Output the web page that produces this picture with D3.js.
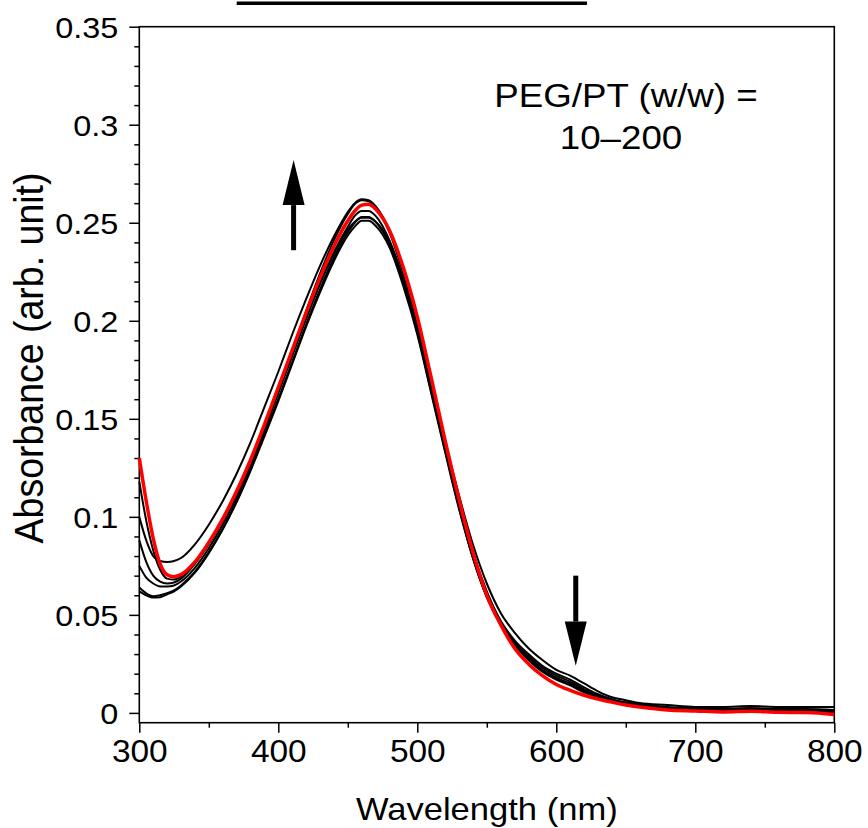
<!DOCTYPE html>
<html>
<head>
<meta charset="utf-8">
<script src="https://cdn.jsdelivr.net/npm/d3@7"></script>
<style>
  html, body { margin: 0; padding: 0; background: #fff; }
  svg text { font-family: "Liberation Sans", Arial, sans-serif; fill: #000; }
</style>
</head>
<body>
<svg id="chart" width="868" height="828"></svg>
<script>
// Wavelength grid (nm)
var wavelengths = [300,305,310,315,320,325,330,340,350,360,370,380,390,400,410,420,430,440,450,455,460,465,470,480,490,500,510,520,530,540,550,560,570,580,590,600,610,620,630,640,650,660,680,700,720,740,760,780,800];

// absorbance spectra, black ones (PEG/PT ratios)
var black1 = [.100,.088,.080,.0775,.077,.0775,.079,.086,.096,.108,.122,.138,.156,.174,.193,.211,.228,.243,.2555,.260,.262,.2615,.2585,.246,.225,.199,.169,.139,.111,.086,.066,.051,.041,.033,.027,.022,.019,.015,.011,.008,.0065,.005,.004,.003,.003,.0035,.003,.003,.003];
var black2 = [.088,.077,.070,.067,.066,.0665,.0685,.076,.086,.098,.112,.128,.146,.165,.185,.205,.224,.241,.2545,.2595,.2615,.261,.258,.245,.224,.198,.168,.137,.108,.082,.062,.047,.037,.030,.024,.020,.017,.013,.0095,.007,.0055,.0045,.003,.0025,.002,.0025,.002,.002,.0015];
var black3 = [.075,.069,.066,.0645,.0645,.065,.067,.074,.084,.096,.110,.126,.144,.163,.182,.201,.219,.235,.248,.2535,.256,.256,.2535,.241,.221,.195,.165,.135,.106,.080,.060,.046,.036,.029,.023,.019,.016,.012,.009,.0065,.005,.004,.0025,.002,.0015,.002,.0015,.0012,.001];
var black4 = [.064,.061,.0595,.060,.061,.0625,.065,.072,.082,.094,.108,.124,.142,.160,.179,.198,.216,.232,.245,.250,.253,.253,.2505,.239,.219,.194,.164,.134,.105,.079,.059,.045,.035,.028,.022,.018,.015,.0115,.0085,.006,.0045,.0035,.002,.0015,.001,.0015,.001,.0008,.0005];
var black5 = [.062,.060,.0588,.059,.0605,.062,.0645,.0715,.0815,.0935,.1075,.1235,.141,.159,.178,.197,.2145,.2305,.2435,.248,.251,.251,.2485,.2375,.2175,.193,.163,.133,.104,.079,.059,.045,.035,.0275,.0215,.0175,.0145,.011,.008,.006,.0045,.0035,.002,.0015,.0012,.0012,.001,.0008,.0008];
var black6 = [.118,.098,.083,.073,.0685,.068,.0695,.0765,.0865,.0985,.1125,.128,.146,.1645,.183,.2015,.219,.234,.2465,.2505,.2525,.2525,.2505,.240,.2205,.196,.166,.1355,.106,.080,.0595,.045,.0345,.027,.021,.017,.014,.0105,.008,.006,.0045,.0035,.002,.0012,.001,.0012,.0008,.0008,.0005];
// red spectrum (highlighted)
var red = [.130,.108,.089,.076,.0705,.0695,.0705,.077,.087,.099,.113,.129,.147,.166,.185,.204,.222,.238,.251,.256,.259,.2595,.257,.246,.227,.202,.171,.139,.109,.082,.060,.045,.033,.025,.019,.0145,.0115,.009,.007,.0055,.004,.003,.0015,.001,.0005,.0008,.0003,.0002,-.0008];

var blackSeries = [black1, black2, black3, black4, black5, black6];

var xTicks = [300, 400, 500, 600, 700, 800];
var xMinor = [350, 450, 550, 650, 750];
var yTicks = [0, 0.05, 0.1, 0.15, 0.2, 0.25, 0.3, 0.35];
var yTickLabels = ['0', '0.05', '0.1', '0.15', '0.2', '0.25', '0.3', '0.35'];

// annotation arrows: [wavelength, tail, head base, tip]
var upArrow = [411, 0.236, 0.259, 0.282];
var downArrow = [614, 0.070, 0.0466, 0.024];

var svg = d3.select('#chart');

var x = d3.scaleLinear().domain([300, 800]).range([139.3, 834.3]),
    y = d3.scaleLinear().domain([-0.005, 0.35]).range([722.7, 26.7]);

var SX = 1.08; // glyph stretch of the source picture

// cropped title underline at the very top
svg.append('line')
    .attr('x1', 236.7).attr('x2', 587)
    .attr('y1', 3.3).attr('y2', 3.3)
    .attr('stroke', '#000').attr('stroke-width', 3.5);

// frame
svg.append('rect')
    .attr('x', x(300)).attr('y', y(0.35))
    .attr('width', x(800) - x(300)).attr('height', y(-0.005) - y(0.35))
    .attr('fill', 'none').attr('stroke', '#000').attr('stroke-width', 1.6);

// y axis
var yMinor = d3.range(0, 0.3501, 0.01).filter(function(v){
    return Math.abs(v / 0.05 - Math.round(v / 0.05)) > 1e-6;
});
svg.append('g')
    .attr('transform', 'translate(' + x(300) + ',0)')
    .call(d3.axisLeft(y).tickValues(yMinor).tickSize(5).tickFormat(''))
    .call(function(g){ g.select('.domain').remove(); })
    .selectAll('line').attr('stroke-width', 1.5);

var yAxis = svg.append('g')
    .attr('transform', 'translate(' + x(300) + ',0)')
    .call(d3.axisLeft(y).tickValues(yTicks).tickSize(10)
        .tickFormat(function(d, i){ return yTickLabels[i]; }));
yAxis.select('.domain').remove();
yAxis.selectAll('line').attr('stroke-width', 1.5);
yAxis.selectAll('text')
    .attr('x', -21 / SX)
    .attr('dy', '0.36em')
    .attr('transform', 'scale(' + SX + ',1)')
    .style('font-size', '30px');

// x axis
svg.append('g')
    .attr('transform', 'translate(0,' + y(-0.005) + ')')
    .call(d3.axisBottom(x).tickValues(xMinor).tickSize(5).tickFormat(''))
    .call(function(g){ g.select('.domain').remove(); })
    .selectAll('line').attr('stroke-width', 1.5);

var xAxis = svg.append('g')
    .attr('transform', 'translate(0,' + y(-0.005) + ')')
    .call(d3.axisBottom(x).tickValues(xTicks).tickSize(10).tickFormat(d3.format('d')));
xAxis.select('.domain').remove();
xAxis.selectAll('line').attr('stroke-width', 1.5);
xAxis.selectAll('.tick text')
    .attr('y', 39)
    .attr('dy', 0)
    .attr('x', 0)
    .attr('transform', 'scale(' + SX + ',1)')
    .style('font-size', '31px');

// axis titles
svg.append('text')
    .attr('text-anchor', 'middle')
    .attr('transform', 'translate(' + ((x(300) + x(800)) / 2) + ',820) scale(' + SX + ',1)')
    .style('font-size', '32px')
    .text('Wavelength (nm)');

svg.append('text')
    .attr('text-anchor', 'middle')
    .attr('transform', 'translate(43.3,358) rotate(-90) scale(1,1.1)')
    .style('font-size', '37.5px')
    .text('Absorbance (arb. unit)');

// spectra
var line = d3.line()
    .x(function(d){ return x(d[0]); })
    .y(function(d){ return y(d[1]); })
    .curve(d3.curveMonotoneX);

var plot = svg.append('g');

blackSeries.forEach(function(s){
    plot.append('path')
        .datum(wavelengths.map(function(w, i){ return [w, s[i]]; }))
        .attr('d', line)
        .attr('fill', 'none')
        .attr('stroke', '#000')
        .attr('stroke-width', 2);
});

plot.append('path')
    .datum(wavelengths.map(function(w, i){ return [w, red[i]]; }))
    .attr('d', line)
    .attr('fill', 'none')
    .attr('stroke', '#ff0000')
    .attr('stroke-width', 3.5);

// arrows
function arrow(a){
    var cx = x(a[0]);
    svg.append('line')
        .attr('x1', cx).attr('x2', cx)
        .attr('y1', y(a[1])).attr('y2', y(a[2]))
        .attr('stroke', '#000').attr('stroke-width', 5);
    svg.append('path')
        .attr('d', 'M' + (cx - 11) + ',' + y(a[2]) + 'L' + (cx + 11) + ',' + y(a[2]) + 'L' + cx + ',' + y(a[3]) + 'Z')
        .attr('fill', '#000');
}
arrow(upArrow);
arrow(downArrow);

// annotation
svg.append('text')
    .attr('text-anchor', 'middle')
    .attr('transform', 'translate(626,107) scale(' + SX + ',1)')
    .style('font-size', '34px')
    .text('PEG/PT (w/w) =');
svg.append('text')
    .attr('text-anchor', 'middle')
    .attr('transform', 'translate(621,149) scale(' + SX + ',1)')
    .style('font-size', '34px')
    .text('10\u2013200');
</script>
</body>
</html>
